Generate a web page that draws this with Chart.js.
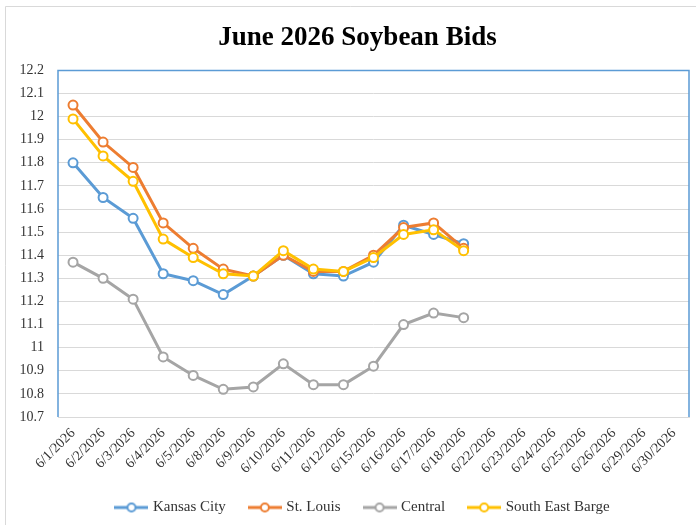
<!DOCTYPE html>
<html>
<head>
<meta charset="utf-8">
<title>June 2026 Soybean Bids</title>
<script src="https://cdn.jsdelivr.net/npm/chart.js@4.4.1/dist/chart.umd.min.js"></script>
<style>
  html, body { margin: 0; padding: 0; background: #fff; }
  canvas { display: block; }
</style>
</head>
<body>
<canvas id="myChart" width="696" height="525"></canvas>
<script>
const labels = ['6/1/2026', '6/2/2026', '6/3/2026', '6/4/2026', '6/5/2026', '6/8/2026', '6/9/2026',
                '6/10/2026', '6/11/2026', '6/12/2026', '6/15/2026', '6/16/2026', '6/17/2026', '6/18/2026',
                '6/22/2026', '6/23/2026', '6/24/2026', '6/25/2026', '6/26/2026', '6/29/2026', '6/30/2026'];

// bids, only through 6/18
const kansasCity = [11.80, 11.65, 11.56, 11.32, 11.29, 11.23, 11.31, 11.40, 11.32, 11.31, 11.37, 11.53, 11.49, 11.45];
const stLouis    = [12.05, 11.89, 11.78, 11.54, 11.43, 11.34, 11.31, 11.40, 11.33, 11.33, 11.40, 11.52, 11.54, 11.43];
const central    = [11.37, 11.30, 11.21, 10.96, 10.88, 10.82, 10.83, 10.93, 10.84, 10.84, 10.92, 11.10, 11.15, 11.13];
const seBarge    = [11.99, 11.83, 11.72, 11.47, 11.39, 11.32, 11.31, 11.42, 11.34, 11.33, 11.39, 11.49, 11.51, 11.42];

const seriesNames = ['Kansas City', 'St. Louis', 'Central', 'South East Barge'];
const seriesColors = ['#5B9BD5', '#ED7D31', '#A5A5A5', '#FFC000'];

const FONT = '"Liberation Serif", "Times New Roman", serif';

// legend marker: a short line with a hollow circle on it
function legendMarker(color) {
  const c = document.createElement('canvas');
  c.width = 34;
  c.height = 12;
  const g = c.getContext('2d');
  g.strokeStyle = color;
  g.lineWidth = 3;
  g.beginPath();
  g.moveTo(0, 6);
  g.lineTo(34, 6);
  g.stroke();
  g.fillStyle = '#fff';
  g.lineWidth = 2;
  g.beginPath();
  g.arc(17, 6, 4, 0, Math.PI * 2);
  g.fill();
  g.stroke();
  return c;
}
const markers = seriesColors.map(legendMarker);

const allSeries = [kansasCity, stLouis, central, seBarge];
const datasets = allSeries.map(function (vals, i) {
  return {
    label: seriesNames[i],
    data: vals,
    borderColor: seriesColors[i],
    backgroundColor: seriesColors[i],
    borderWidth: 3,
    pointRadius: 4.5,
    pointBorderWidth: 2,
    pointBackgroundColor: '#fff',
    pointBorderColor: seriesColors[i],
    tension: 0,
    order: 3 - i   // later series drawn on top, like Excel
  };
});

// outer frame, blue plot border, and nudging title / legend sideways
const framePlugin = {
  id: 'frame',
  beforeDraw(chart) {
    const ctx = chart.ctx;
    ctx.save();
    ctx.fillStyle = '#fff';
    ctx.fillRect(0, 0, chart.width, chart.height);
    ctx.strokeStyle = '#d9d9d9';
    ctx.lineWidth = 1;
    ctx.beginPath();
    ctx.moveTo(5.5, chart.height);
    ctx.lineTo(5.5, 6.5);
    ctx.lineTo(chart.width, 6.5);
    ctx.stroke();
    ctx.restore();
  },
  beforeDatasetsDraw(chart) {
    const a = chart.chartArea;
    const ctx = chart.ctx;
    ctx.save();
    ctx.strokeStyle = '#5B9BD5';
    ctx.lineWidth = 1.5;
    ctx.beginPath();
    ctx.moveTo(a.left, a.bottom);
    ctx.lineTo(a.left, a.top);
    ctx.lineTo(a.right, a.top);
    ctx.lineTo(a.right, a.bottom);
    ctx.stroke();
    ctx.restore();
  },
  afterLayout(chart) {
    chart.titleBlock.left += 13;
    chart.titleBlock.right += 13;
    chart.legend.left += 19;
    chart.legend.right += 19;
  }
};

const config = {
  type: 'line',
  data: { labels: labels, datasets: datasets },
  options: {
    responsive: false,
    animation: false,
    layout: { padding: { left: 0, right: 7, top: 0, bottom: 0 } },
    plugins: {
      title: {
        display: true,
        text: 'June 2026 Soybean Bids',
        color: '#000',
        font: { family: FONT, size: 27, weight: 'bold' },
        padding: { top: 22, bottom: 16 }
      },
      legend: {
        position: 'bottom',
        labels: {
          usePointStyle: true,
          pointStyleWidth: 28,
          padding: 25,
          color: '#333',
          font: { family: FONT, size: 15 },
          generateLabels(chart) {
            const items = Chart.defaults.plugins.legend.labels.generateLabels(chart);
            items.forEach(function (it) { it.pointStyle = markers[it.datasetIndex]; });
            return items;
          },
          sort: (a, b) => a.datasetIndex - b.datasetIndex
        }
      },
      tooltip: { enabled: false }
    },
    scales: {
      x: {
        offset: true,
        grid: { display: false, drawTicks: false, offset: true },
        border: { display: true, color: '#d9d9d9', width: 1 },
        ticks: {
          color: '#333',
          font: { family: FONT, size: 14 },
          minRotation: 45,
          maxRotation: 45,
          autoSkip: false,
          padding: 8
        },
        afterFit(scale) {
          scale.height = 58;
          scale.paddingRight = 0;
        }
      },
      y: {
        min: 10.7,
        max: 12.2,
        grid: { color: '#d9d9d9', lineWidth: 1, drawTicks: false },
        border: { display: false },
        ticks: {
          stepSize: 0.1,
          color: '#333',
          padding: 14,
          font: { family: FONT, size: 14 },
          callback: (v) => String(Number(v.toFixed(1)))
        },
        afterFit(scale) { scale.width = 58; }
      }
    }
  },
  plugins: [framePlugin]
};

const myChart = new Chart(document.getElementById('myChart'), config);
</script>
</body>
</html>
